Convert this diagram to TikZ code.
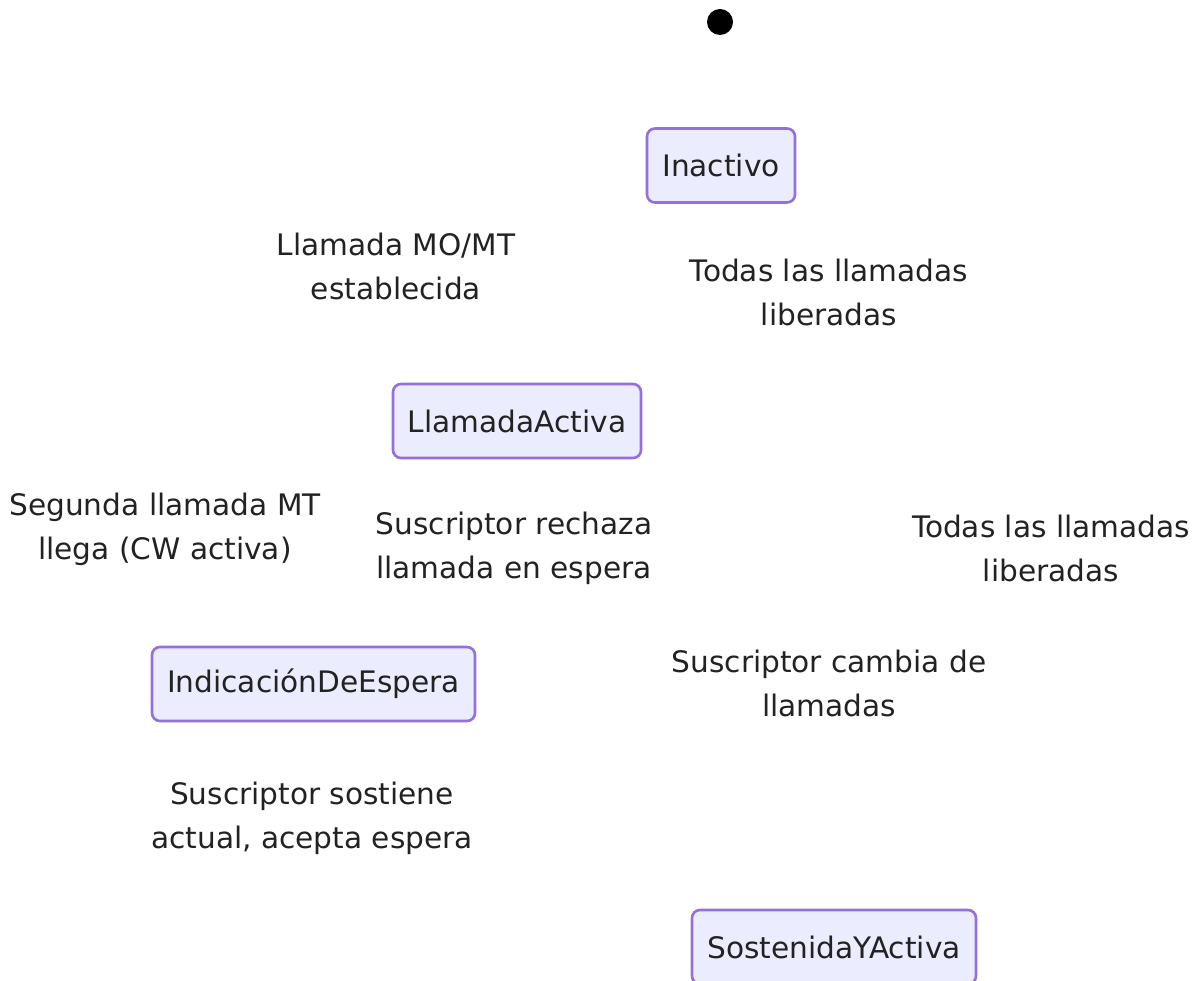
\documentclass[tikz,border=0pt]{standalone}
\usepackage{fontspec}
\setmainfont{DejaVu Sans}
\definecolor{stfill}{HTML}{ECECFF}
\definecolor{stline}{HTML}{9370DB}
\definecolor{txt}{HTML}{222222}
\begin{document}
\begin{tikzpicture}[x=1pt,y=-1pt,
  every node/.style={font=\fontsize{29.6}{44}\selectfont, text=txt},
  state/.style={draw=stline, fill=stfill, line width=2.6pt, rounded corners=8pt,
     inner sep=0pt, minimum height=74pt},
  lbl/.style={align=center, inner sep=0pt}]
\useasboundingbox (0,0) rectangle (1196,981);
\fill[black] (720,22) circle (13) coordinate (start);
\node[state, minimum width=148pt] (inactivo) at (721,165.5) {Inactivo};
\node[state, minimum width=248pt] (activa) at (517,421) {LlamadaActiva};
\node[state, minimum width=323pt] (espera) at (313.5,684) {IndicaciónDeEspera};
\node[state, minimum width=284pt] (sost) at (834,947) {SostenidaYActiva};
\node[lbl] (l1) at (396,266) {Llamada MO/MT\\establecida};
\node[lbl] (l2) at (829,292) {Todas las llamadas\\liberadas};
\node[lbl] (l3) at (165,529) {Segunda llamada MT\\llega (CW activa)};
\node[lbl] (l4) at (514,548) {Suscriptor rechaza\\llamada en espera};
\node[lbl] (l5) at (1051,548) {Todas las llamadas\\liberadas};
\node[lbl] (l6) at (829,683) {Suscriptor cambia de\\llamadas};
\node[lbl] (l7) at (312,818.5) {Suscriptor sostiene\\actual, acepta espera};
\end{tikzpicture}
\end{document}
